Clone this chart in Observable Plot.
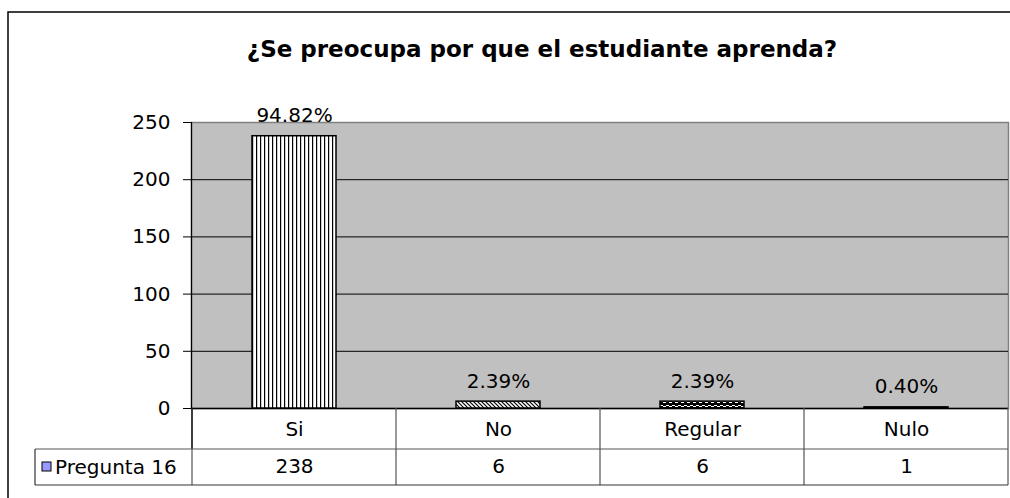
<!DOCTYPE html>
<html>
<head>
<meta charset="utf-8">
<script src="https://cdn.jsdelivr.net/npm/d3@7"></script>
<script src="https://cdn.jsdelivr.net/npm/@observablehq/plot@0.6"></script>
<style>
  html, body { margin: 0; padding: 0; background: #fff; }
  #chart { width: 1010px; height: 498px; overflow: hidden; }
</style>
</head>
<body>
<div id="chart"></div>
<script>
// ---- data ----
const categories = ["Si", "No", "Regular", "Nulo"];
const counts = [238, 6, 6, 1];
const percentLabels = ["94.82%", "2.39%", "2.39%", "0.40%"];
const yTicks = [0, 50, 100, 150, 200, 250];
const seriesName = "Pregunta 16";
const titleText = "¿Se preocupa por que el estudiante aprenda?";

// ---- styles ----
const barFills = {
  "Si": "url(#pat-vstripe)",
  "No": "url(#pat-diag)",
  "Regular": "url(#pat-wave)",
  "Nulo": "#000"
};

const data = categories.map((c, i) => ({category: c, count: counts[i], label: percentLabels[i]}));

const plot = Plot.plot({
  width: 1010,
  height: 498,
  marginLeft: 191,
  marginRight: 2,
  marginTop: 122,
  marginBottom: 90,
  x: {domain: categories, padding: 0, axis: null, label: null},
  y: {domain: [0, 250], axis: null, label: null},
  color: {type: "identity"},
  style: {fontFamily: "DejaVu Sans", fontSize: "20px", color: "#000", background: "transparent", overflow: "visible"},
  marks: [
    Plot.frame({fill: "#c0c0c0", stroke: "#808080", strokeWidth: 1.5}),
    Plot.ruleY(yTicks.filter(t => t > 0 && t < 250), {stroke: "#000", strokeWidth: 1}),
    Plot.ruleY([0], {stroke: "#000", strokeWidth: 1.5}),
    Plot.frame({anchor: "left", stroke: "#000", strokeWidth: 1.2}),
    Plot.axisY({ticks: yTicks, tickSize: 8, tickPadding: 13, fontSize: 20, stroke: "#000", fill: "#000", label: null}),
    Plot.barY(data, {
      x: "category", y: "count",
      fill: d => barFills[d.category],
      stroke: "#000", strokeWidth: 1.5,
      insetLeft: 60, insetRight: 60
    }),
    Plot.text(data, {x: "category", y: "count", text: "label", dy: -14, lineAnchor: "bottom", fill: "#000", fontSize: 20}),
    Plot.text(data, {x: "category", text: "category", frameAnchor: "bottom", dy: 21, lineAnchor: "middle", fill: "#000", fontSize: 20}),
    Plot.text(data, {x: "category", text: d => String(d.count), frameAnchor: "bottom", dy: 58, lineAnchor: "middle", fill: "#000", fontSize: 20})
  ]
});

document.getElementById("chart").appendChild(plot);

const svg = d3.select(plot);

// pattern definitions
svg.insert("defs", ":first-child").html(`
  <pattern id="pat-vstripe" patternUnits="userSpaceOnUse" width="4" height="4">
    <rect width="4" height="4" fill="#fff"/>
    <rect x="0" y="0" width="1.2" height="4" fill="#000"/>
  </pattern>
  <pattern id="pat-diag" patternUnits="userSpaceOnUse" width="4" height="4">
    <rect width="4" height="4" fill="#fff"/>
    <path d="M0,0 L4,4 M-1,3 L1,5 M3,-1 L5,1" stroke="#000" stroke-width="1.2"/>
  </pattern>
  <pattern id="pat-wave" patternUnits="userSpaceOnUse" width="6" height="4">
    <rect width="6" height="4" fill="#000"/>
    <rect x="0" y="1" width="3" height="1" fill="#fff"/>
    <rect x="3" y="2" width="3" height="1" fill="#fff"/>
  </pattern>
`);

// data table below the plot, positioned from the plot's own scales
const xs = plot.scale("x");
const ys = plot.scale("y");
const bw = xs.bandwidth;
const y0 = ys.apply(0);
const row1 = 41, row2 = 36;
const legendLeft = 35;
const xStart = xs.apply(categories[0]);
const xEnd = xs.apply(categories[categories.length - 1]) + bw;

const g = svg.append("g").attr("stroke", "#555").attr("stroke-width", 1.2).attr("fill", "none");
const bounds = categories.map(c => xs.apply(c)).concat([xEnd]);
bounds.forEach(bx => {
  g.append("line").attr("x1", bx).attr("x2", bx).attr("y1", y0).attr("y2", y0 + row1 + row2);
});
g.append("line").attr("x1", xStart).attr("x2", xStart).attr("y1", y0).attr("y2", y0 + row1).attr("stroke", "#000");
g.append("line").attr("x1", legendLeft).attr("x2", xEnd).attr("y1", y0 + row1).attr("y2", y0 + row1);
g.append("line").attr("x1", legendLeft).attr("x2", xEnd).attr("y1", y0 + row1 + row2).attr("y2", y0 + row1 + row2).attr("stroke", "#333");
g.append("line").attr("x1", legendLeft).attr("x2", legendLeft).attr("y1", y0 + row1).attr("y2", y0 + row1 + row2).attr("stroke", "#333");

// legend key in the table
const ly = y0 + row1 + row2 / 2;
svg.append("rect").attr("x", 42).attr("y", ly - 5).attr("width", 9).attr("height", 9)
  .attr("fill", "#9999ff").attr("stroke", "#000").attr("stroke-width", 1);
svg.append("text").attr("x", 55).attr("y", ly).attr("dy", "0.36em").attr("text-anchor", "start")
  .attr("fill", "#000").attr("font-size", 20).text(seriesName);

// title
svg.append("text").attr("x", 542).attr("y", 57).attr("text-anchor", "middle")
  .attr("font-weight", "bold").attr("font-size", 23).attr("fill", "#000").text(titleText);

// outer chart border (top and left visible)
svg.append("path").attr("d", "M8,498 V12 H1010").attr("fill", "none").attr("stroke", "#000").attr("stroke-width", 1.5);
</script>
</body>
</html>
